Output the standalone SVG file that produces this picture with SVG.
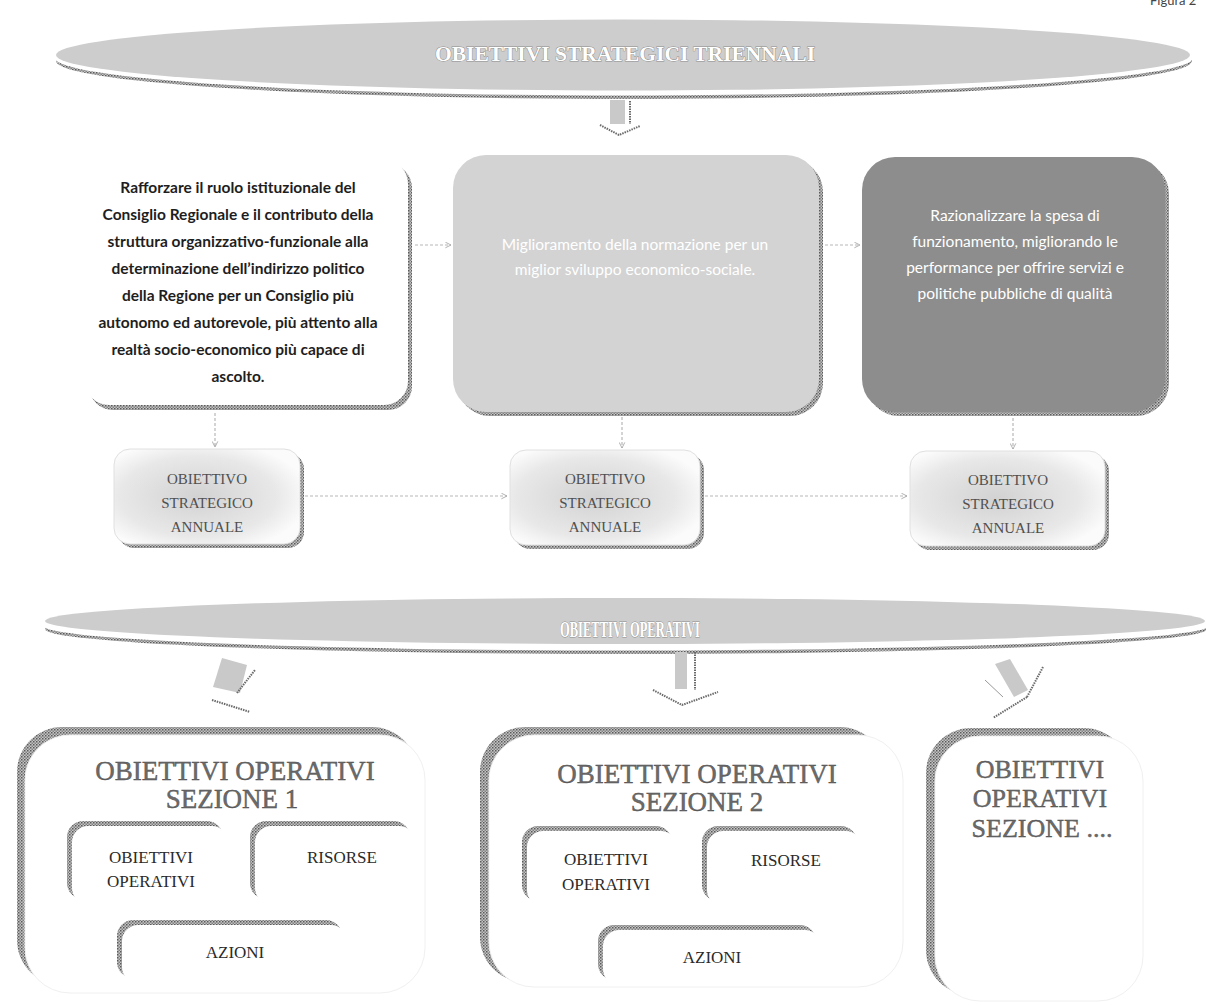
<svg xmlns="http://www.w3.org/2000/svg" width="1206" height="1007" viewBox="0 0 1206 1007">
  <defs>
    <!-- grainy dark band used for all drop shadows -->
    <pattern id="dither" width="3" height="3" patternUnits="userSpaceOnUse">
      <rect width="3" height="3" fill="#c4c4c4"/>
      <rect width="1.5" height="1.5" fill="#5a5a5a"/>
      <rect x="1.5" y="1.5" width="1.5" height="1.5" fill="#828282"/>
    </pattern>
    <radialGradient id="annualFill" cx="0.45" cy="0.5" r="0.6">
      <stop offset="0" stop-color="#d2d2d2"/>
      <stop offset="0.7" stop-color="#e8e8e8"/>
      <stop offset="1" stop-color="#fbfbfb"/>
    </radialGradient>
    <marker id="openArrow" viewBox="0 0 10 10" refX="9" refY="5" markerWidth="7" markerHeight="7" orient="auto" markerUnits="userSpaceOnUse">
      <path d="M1,1 L9,5 L1,9" fill="none" stroke="#aaa" stroke-width="1.3"/>
    </marker>
  </defs>
  <style>
    .serif { font-family: "Liberation Serif", "Times New Roman", serif; }
    .sans { font-family: Lato, "Liberation Sans", Arial, sans-serif; }
    .shadow { fill: url(#dither); }
    .conn { fill: none; stroke: #b8b8b8; stroke-width: 1.2; stroke-dasharray: 3 2; marker-end: url(#openArrow); }
    .banner-text { fill: #fff; stroke: #8c8c8c; stroke-width: 0.9; paint-order: stroke; font-weight: bold; }
    .annual-text { fill: #505050; font-size: 15px; }
    .section-title { fill: #6b6b6b; stroke: #4a4a4a; stroke-width: 0.4; font-size: 27px; }
    .inner-text { fill: #2a2a2a; font-size: 17px; }
    .white-box { fill: #fff; stroke: #f0f0f0; stroke-width: 1; }
    .shaft { fill: #c9c9c9; }
    .shadow-line { fill: none; stroke: #6a6a6a; stroke-width: 2; stroke-dasharray: 1.5 1; }
  </style>

  <rect width="1206" height="1007" fill="#fff"/>

  <!-- page caption -->
  <text x="1150" y="5" class="sans" font-size="13" fill="#444">Figura 2</text>

  <!-- banner: three-year strategic objectives -->
  <g id="banner-triennali">
    <ellipse cx="624" cy="61" rx="568" ry="38" class="shadow"/>
    <ellipse cx="624" cy="58" rx="569" ry="37.5" fill="#fff"/>
    <ellipse cx="623" cy="55" rx="567" ry="35.5" fill="#cdcdcd"/>
    <text x="625" y="61" text-anchor="middle" class="serif banner-text" font-size="20" textLength="380" lengthAdjust="spacingAndGlyphs">OBIETTIVI STRATEGICI TRIENNALI</text>
  </g>

  <!-- block arrow under the top banner -->
  <g id="arrow-top">
    <rect x="610" y="100" width="15" height="24" class="shaft"/>
    <line x1="630" y1="101" x2="630" y2="124" class="shadow-line"/>
    <polyline points="600,125 619,135 640,126" class="shadow-line"/>
  </g>

  <!-- three-year objectives -->
  <g id="obj-istituzionale">
    <rect x="89" y="164" width="323" height="246" rx="24" class="shadow"/>
    <rect x="85" y="160" width="323" height="245" rx="24" fill="#fff"/>
    <g class="sans" font-size="15.5" font-weight="bold" fill="#1e1e1e" text-anchor="middle">
      <text x="238" y="193">Rafforzare il ruolo istituzionale del</text>
      <text x="238" y="220">Consiglio Regionale e il contributo della</text>
      <text x="238" y="247">struttura organizzativo-funzionale alla</text>
      <text x="238" y="274">determinazione dell’indirizzo politico</text>
      <text x="238" y="301">della Regione per un Consiglio più</text>
      <text x="238" y="328">autonomo ed autorevole, più attento alla</text>
      <text x="238" y="355">realtà socio-economico più capace di</text>
      <text x="238" y="382">ascolto.</text>
    </g>
  </g>

  <g id="obj-normazione">
    <rect x="457" y="159" width="366" height="257" rx="33" class="shadow"/>
    <rect x="453" y="155" width="366" height="257" rx="33" fill="#d3d3d3"/>
    <g class="sans" font-size="15.5" fill="#fff" text-anchor="middle">
      <text x="635" y="250">Miglioramento della normazione per un</text>
      <text x="635" y="275">miglior sviluppo economico-sociale.</text>
    </g>
  </g>

  <g id="obj-spesa">
    <rect x="866" y="161" width="303" height="255" rx="33" class="shadow"/>
    <rect x="862" y="157" width="303" height="255" rx="33" fill="#8d8d8d"/>
    <g class="sans" font-size="15.5" fill="#fff" text-anchor="middle">
      <text x="1015" y="221">Razionalizzare la spesa di</text>
      <text x="1015" y="247">funzionamento, migliorando le</text>
      <text x="1015" y="273">performance per offrire servizi e</text>
      <text x="1015" y="299">politiche pubbliche di qualità</text>
    </g>
  </g>

  <!-- annual strategic objectives -->
  <g id="annual-1">
    <rect x="118" y="453" width="186" height="95" rx="16" class="shadow"/>
    <rect x="114" y="449" width="186" height="95" rx="16" fill="url(#annualFill)" stroke="#e0e0e0"/>
    <g class="serif annual-text" text-anchor="middle">
      <text x="207" y="484">OBIETTIVO</text>
      <text x="207" y="508">STRATEGICO</text>
      <text x="207" y="532">ANNUALE</text>
    </g>
  </g>
  <g id="annual-2">
    <rect x="514" y="454" width="190" height="95" rx="16" class="shadow"/>
    <rect x="510" y="450" width="190" height="95" rx="16" fill="url(#annualFill)" stroke="#e0e0e0"/>
    <g class="serif annual-text" text-anchor="middle">
      <text x="605" y="484">OBIETTIVO</text>
      <text x="605" y="508">STRATEGICO</text>
      <text x="605" y="532">ANNUALE</text>
    </g>
  </g>
  <g id="annual-3">
    <rect x="914" y="455" width="195" height="95" rx="16" class="shadow"/>
    <rect x="910" y="451" width="195" height="95" rx="16" fill="url(#annualFill)" stroke="#e0e0e0"/>
    <g class="serif annual-text" text-anchor="middle">
      <text x="1008" y="485">OBIETTIVO</text>
      <text x="1008" y="509">STRATEGICO</text>
      <text x="1008" y="533">ANNUALE</text>
    </g>
  </g>

  <!-- dashed connectors -->
  <g id="connectors">
    <path d="M415,245 L451,245" class="conn"/>
    <path d="M825,245 L860,245" class="conn"/>
    <path d="M215,413 L215,447" class="conn"/>
    <path d="M622,417 L622,448" class="conn"/>
    <path d="M1013,418 L1013,449" class="conn"/>
    <path d="M305,496 L507,496" class="conn"/>
    <path d="M705,496 L907,496" class="conn"/>
  </g>

  <!-- banner: operational objectives -->
  <g id="banner-operativi">
    <ellipse cx="626" cy="629" rx="581" ry="25" class="shadow"/>
    <ellipse cx="626" cy="626" rx="582" ry="24.5" fill="#fff"/>
    <ellipse cx="625" cy="621" rx="580" ry="23" fill="#cdcdcd"/>
    <text x="630" y="637" text-anchor="middle" class="serif banner-text" font-size="24" textLength="140" lengthAdjust="spacingAndGlyphs">OBIETTIVI OPERATIVI</text>
  </g>

  <!-- block arrows towards the sections -->
  <g id="arrow-left">
    <polygon points="222,658 247,665 240,693 213,687" class="shaft"/>
    <line x1="237" y1="693" x2="255" y2="670" class="shadow-line"/>
    <line x1="212" y1="700" x2="250" y2="712" class="shadow-line"/>
  </g>
  <g id="arrow-middle">
    <rect x="675" y="652" width="12" height="37" class="shaft"/>
    <line x1="695" y1="652" x2="695" y2="690" class="shadow-line"/>
    <polyline points="653,690 682,705 718,692" class="shadow-line"/>
  </g>
  <g id="arrow-right">
    <polygon points="995,664 1010,659 1028,690 1014,697" class="shaft"/>
    <line x1="1043" y1="667" x2="1027" y2="697" class="shadow-line"/>
    <line x1="1027" y1="697" x2="993" y2="718" class="shadow-line"/>
    <line x1="985" y1="680" x2="1003" y2="697" stroke="#999" stroke-width="1"/>
  </g>

  <!-- section 1 -->
  <g id="sezione-1">
    <rect x="17" y="727" width="400" height="258" rx="45" class="shadow"/>
    <rect x="25" y="735" width="400" height="258" rx="45" class="white-box"/>
    <g class="serif section-title" text-anchor="middle">
      <text x="235" y="780">OBIETTIVI OPERATIVI</text>
      <text x="232" y="808">SEZIONE 1</text>
    </g>
    <rect x="67" y="821" width="156" height="78" rx="16" class="shadow"/>
    <rect x="72" y="826" width="156" height="78" rx="16" fill="#fff"/>
    <rect x="250" y="821" width="160" height="78" rx="16" class="shadow"/>
    <rect x="255" y="826" width="160" height="78" rx="16" fill="#fff"/>
    <rect x="117" y="920" width="225" height="58" rx="16" class="shadow"/>
    <rect x="122" y="925" width="225" height="58" rx="16" fill="#fff"/>
    <g class="serif inner-text" text-anchor="middle">
      <text x="151" y="863">OBIETTIVI</text>
      <text x="151" y="887">OPERATIVI</text>
      <text x="342" y="863">RISORSE</text>
      <text x="235" y="958">AZIONI</text>
    </g>
  </g>

  <!-- section 2 -->
  <g id="sezione-2">
    <rect x="480" y="727" width="405" height="255" rx="45" class="shadow"/>
    <rect x="489" y="735" width="414" height="252" rx="45" class="white-box"/>
    <g class="serif section-title" text-anchor="middle">
      <text x="697" y="783">OBIETTIVI OPERATIVI</text>
      <text x="697" y="811">SEZIONE 2</text>
    </g>
    <rect x="522" y="826" width="150" height="75" rx="16" class="shadow"/>
    <rect x="527" y="831" width="150" height="75" rx="16" fill="#fff"/>
    <rect x="702" y="826" width="155" height="75" rx="16" class="shadow"/>
    <rect x="707" y="831" width="155" height="75" rx="16" fill="#fff"/>
    <rect x="598" y="925" width="218" height="55" rx="16" class="shadow"/>
    <rect x="603" y="930" width="218" height="55" rx="16" fill="#fff"/>
    <g class="serif inner-text" text-anchor="middle">
      <text x="606" y="865">OBIETTIVI</text>
      <text x="606" y="890">OPERATIVI</text>
      <text x="786" y="866">RISORSE</text>
      <text x="712" y="963">AZIONI</text>
    </g>
  </g>

  <!-- section 3 -->
  <g id="sezione-3">
    <rect x="926" y="728" width="203" height="267" rx="45" class="shadow"/>
    <rect x="935" y="736" width="208" height="265" rx="45" class="white-box"/>
    <g class="serif section-title" text-anchor="middle" font-size="26px" style="font-size:26px">
      <text x="1040" y="778">OBIETTIVI</text>
      <text x="1040" y="807">OPERATIVI</text>
      <text x="1042" y="837">SEZIONE ....</text>
    </g>
  </g>
</svg>
